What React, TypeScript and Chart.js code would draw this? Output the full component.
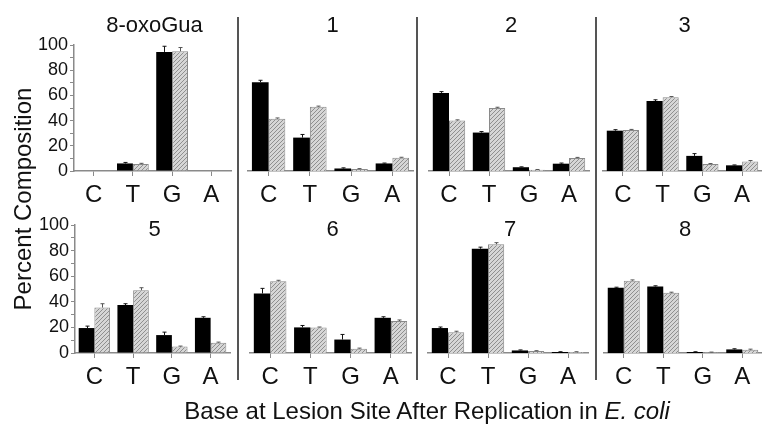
import React, { useEffect, useRef } from "react";
import { Chart, registerables } from "chart.js";

Chart.register(...registerables);

const FONT = "'Liberation Sans', Arial, Helvetica, sans-serif";

// ---------- data ----------
const bases = ["C", "T", "G", "A"];
const panelTitles = ["8-oxoGua", "1", "2", "3", "5", "6", "7", "8"];
const yMin = 0;
const yMax = 100;
const yLabelStep = 20;
const yMinorStep = 10;

const blackValues = [
  [0, 6, 94.5, 0],
  [70.5, 26.5, 2, 6],
  [62, 30.5, 3, 5.8],
  [32, 55.5, 12, 4.5],
  [19.5, 37.5, 14, 27.5],
  [46.5, 20, 10.5, 27.5],
  [19.5, 81.5, 2, 0.8],
  [51, 52, 0.8, 2.8],
];
const hatchedValues = [
  [0, 5.5, 95, 0],
  [41.5, 51, 1.5, 10.6],
  [40, 50, 1, 10.3],
  [32.5, 58.5, 5.5, 7.5],
  [35.5, 49, 5, 8],
  [56, 20, 3.4, 25],
  [16.2, 85, 1.5, 0.8],
  [56.5, 47, 0.5, 2.5],
];
const blackErrors = [
  [0, 0.8, 4.5, 0],
  [1.5, 2.5, 0.5, 0.3],
  [1, 0.8, 0.3, 0.5],
  [0.8, 1, 1.8, 0.3],
  [1.5, 1, 2.3, 0.8],
  [4, 1.5, 4, 0.8],
  [0.8, 1.2, 0.4, 0.2],
  [0.4, 0.5, 0.2, 0.5],
];
const hatchedErrors = [
  [0, 0.6, 3, 0],
  [0.6, 0.5, 0.4, 0.3],
  [0.6, 0.6, 0.2, 0.5],
  [0.5, 0.6, 0.4, 0.8],
  [3, 2, 0.4, 0.5],
  [0.8, 0.3, 0.4, 0.8],
  [0.8, 1.2, 0.3, 0.2],
  [0.6, 0.5, 0.2, 0.5],
];

// ---------- layout ----------
const ROWS = [
  { canvasTop: 0, canvasHeight: 210, plotTop: 45, plotBottom: 171, titleY: 26 },
  { canvasTop: 200, canvasHeight: 195, plotTop: 225, plotBottom: 353, titleY: 230 },
];
const COLS = [
  { canvasLeft: 24, canvasRight: 238, plot: [[74, 231], [75, 230]] },
  { canvasLeft: 239, canvasRight: 417, plot: [[248, 413], [250, 411]] },
  { canvasLeft: 418, canvasRight: 596, plot: [[429, 589], [428, 588]] },
  { canvasLeft: 597, canvasRight: 762, plot: [[603, 762], [604, 762]] },
];
const X_AXIS_H = 34;
const SEPARATORS = [237, 416, 595];

function makeHatch(): CanvasPattern | string {
  const c = document.createElement("canvas");
  c.width = 4;
  c.height = 4;
  const g = c.getContext("2d");
  if (!g) return "#c8c8c8";
  g.fillStyle = "#d6d6d6";
  g.fillRect(0, 0, 4, 4);
  g.strokeStyle = "#8f8f8f";
  g.lineWidth = 1;
  g.beginPath();
  g.moveTo(0, 4);
  g.lineTo(4, 0);
  g.moveTo(-1, 1);
  g.lineTo(1, -1);
  g.moveTo(3, 5);
  g.lineTo(5, 3);
  g.stroke();
  const p = g.createPattern(c, "repeat");
  return p || "#c8c8c8";
}

const errorBarPlugin = {
  id: "errorBars",
  afterDatasetsDraw(chart: any) {
    const ctx = chart.ctx;
    const ys = chart.scales.y;
    chart.data.datasets.forEach((ds: any, di: number) => {
      const meta = chart.getDatasetMeta(di);
      meta.data.forEach((bar: any, k: number) => {
        const e = ds.errors ? ds.errors[k] : 0;
        if (!e) return;
        const v = ds.data[k];
        const top = ys.getPixelForValue(v + e);
        const x = Math.round(bar.x) + 0.5;
        ctx.save();
        ctx.strokeStyle = ds.errorColor;
        ctx.lineWidth = 1;
        ctx.beginPath();
        ctx.moveTo(x, bar.y);
        ctx.lineTo(x, top);
        ctx.moveTo(x - 2, top);
        ctx.lineTo(x + 2, top);
        ctx.stroke();
        ctx.restore();
      });
    });
  },
};

const panelTitlePlugin = {
  id: "panelTitle",
  afterDraw(chart: any, _args: any, opts: any) {
    const ctx = chart.ctx;
    const a = chart.chartArea;
    ctx.save();
    ctx.font = `22px ${FONT}`;
    ctx.fillStyle = "#111";
    ctx.textAlign = "center";
    ctx.textBaseline = "middle";
    ctx.fillText(opts.text, (a.left + a.right) / 2 + 2, opts.y);
    ctx.restore();
  },
};

function Panel({ index }: { index: number }) {
  const ref = useRef<HTMLCanvasElement | null>(null);
  const rowIdx = Math.floor(index / 4);
  const colIdx = index % 4;
  const row = ROWS[rowIdx];
  const col = COLS[colIdx];
  const width = col.canvasRight - col.canvasLeft;
  const height = row.canvasHeight;

  useEffect(() => {
    if (!ref.current) return;
    const [pl, pr] = col.plot[rowIdx];
    const isFirst = colIdx === 0;
    const yAxisW = isFirst ? pl - col.canvasLeft : 0;
    const padding = {
      left: isFirst ? 0 : pl - col.canvasLeft,
      right: col.canvasRight - pr,
      top: row.plotTop - row.canvasTop,
      bottom: row.canvasTop + row.canvasHeight - row.plotBottom - X_AXIS_H,
    };
    const chart = new Chart(ref.current, {
      type: "bar",
      data: {
        labels: bases,
        datasets: [
          {
            data: blackValues[index],
            backgroundColor: "#000000",
            borderWidth: 0,
            errors: blackErrors[index],
            errorColor: "#111111",
          } as any,
          {
            data: hatchedValues[index],
            backgroundColor: makeHatch(),
            borderColor: "#8a8a8a",
            borderWidth: 1,
            errors: hatchedErrors[index],
            errorColor: "#555555",
          } as any,
        ],
      },
      options: {
        animation: false,
        responsive: false,
        maintainAspectRatio: false,
        events: [],
        layout: { padding },
        datasets: { bar: { categoryPercentage: 0.81, barPercentage: 1 } },
        plugins: {
          legend: { display: false },
          tooltip: { enabled: false },
          panelTitle: { text: panelTitles[index], y: row.titleY - row.canvasTop },
        } as any,
        scales: {
          x: {
            offset: true,
            grid: {
              display: true,
              drawOnChartArea: false,
              drawTicks: true,
              tickLength: 5,
              offset: false,
              color: "#8a8a8a",
              tickColor: "#8a8a8a",
            },
            border: { display: true, color: "#8a8a8a", width: 1.5 },
            ticks: {
              font: { family: FONT, size: 24 },
              color: "#111",
              padding: 5,
              maxRotation: 0,
              autoSkip: false,
            },
            afterFit: (s: any) => {
              s.height = X_AXIS_H;
            },
          },
          y: {
            display: isFirst,
            min: yMin,
            max: yMax,
            grid: {
              display: true,
              drawOnChartArea: false,
              drawTicks: true,
              tickLength: 4,
              color: "#8a8a8a",
              tickColor: "#8a8a8a",
            },
            border: { display: true, color: "#8a8a8a", width: 1.5 },
            ticks: {
              stepSize: yMinorStep,
              autoSkip: false,
              padding: 2,
              color: "#111",
              font: { family: FONT, size: 18 },
              callback: (v: any) => (Number(v) % yLabelStep === 0 ? String(v) : ""),
            },
            afterFit: (s: any) => {
              s.width = yAxisW;
            },
          },
        },
      } as any,
      plugins: [errorBarPlugin, panelTitlePlugin],
    });
    return () => chart.destroy();
  }, []);

  return (
    <canvas
      ref={ref}
      width={width}
      height={height}
      style={{
        position: "absolute",
        left: col.canvasLeft,
        top: row.canvasTop,
        width,
        height,
      }}
    />
  );
}

export default function App() {
  return (
    <div
      style={{
        position: "absolute",
        left: 0,
        top: 0,
        width: 762,
        height: 424,
        background: "#ffffff",
        overflow: "hidden",
        fontFamily: FONT,
        color: "#111",
      }}
    >
      {SEPARATORS.map((x) => (
        <div
          key={x}
          style={{
            position: "absolute",
            left: x,
            top: 17,
            width: 2,
            height: 363,
            background: "#555",
          }}
        />
      ))}
      {panelTitles.map((_, i) => (
        <Panel key={i} index={i} />
      ))}
      <div
        style={{
          position: "absolute",
          left: 23 - 150,
          top: 199 - 14,
          width: 300,
          height: 28,
          lineHeight: "28px",
          fontSize: 24,
          textAlign: "center",
          transform: "rotate(-90deg)",
          whiteSpace: "nowrap",
        }}
      >
        Percent Composition
      </div>
      <div
        style={{
          position: "absolute",
          left: 427 - 350,
          top: 411 - 14,
          width: 700,
          height: 28,
          lineHeight: "28px",
          fontSize: 24,
          textAlign: "center",
          whiteSpace: "nowrap",
        }}
      >
        Base at Lesion Site After Replication in <i>E. coli</i>
      </div>
    </div>
  );
}
